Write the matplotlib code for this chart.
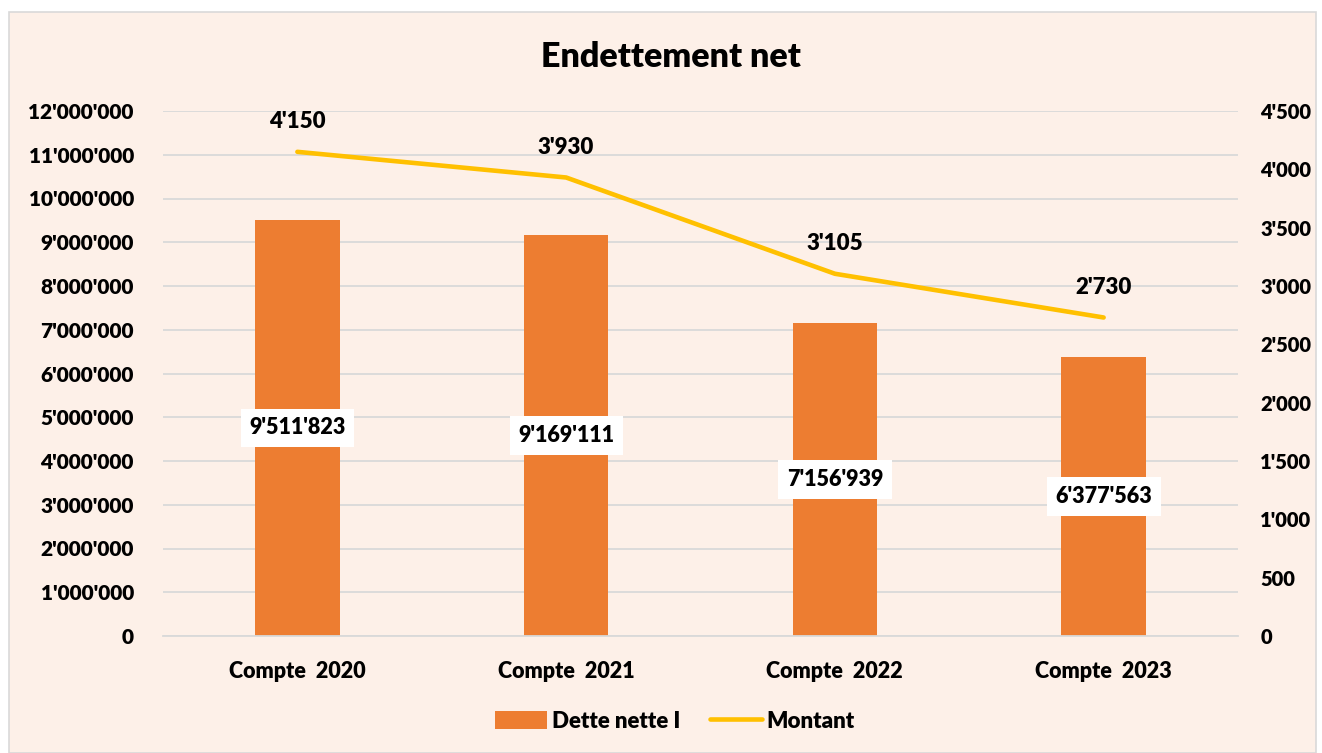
import matplotlib
matplotlib.use("Agg")
import matplotlib.pyplot as plt
from matplotlib.patches import Rectangle, Patch
from matplotlib.lines import Line2D
from matplotlib.ticker import FuncFormatter, MultipleLocator

categories = ["Compte  2020", "Compte  2021", "Compte  2022", "Compte  2023"]
dette_nette = [9511823, 9169111, 7156939, 6377563]
montant = [4150, 3930, 3105, 2730]

BAR_C = "#ED7D31"
LINE_C = "#FFC000"
BG = "#FDF0E8"
GRID = "#D9D9D9"
WT = "heavy"

plt.rcParams['font.family'] = ['Lato', 'DejaVu Sans']
plt.rcParams['font.weight'] = WT

def fmt(v, pos=None):
    return f"{int(round(v)):,}".replace(",", "'")

fig = plt.figure(figsize=(13.22, 7.53), dpi=100)
fig.patch.set_facecolor("white")
W, H = 1322, 753
fig.patches.append(Rectangle((9 / W, 0), (1316 - 9) / W, (H - 12) / H,
                             transform=fig.transFigure, facecolor=BG,
                             edgecolor=GRID, linewidth=1.2, zorder=-10))

ax = fig.add_axes([163 / W, 1 - 636 / H, (1238 - 163) / W, (636 - 111) / H])
ax.set_facecolor("none")
x = list(range(len(categories)))
bars = ax.bar(x, dette_nette, width=0.315, color=BAR_C, zorder=2)
ax.set_xlim(-0.5, len(categories) - 0.5)
ax.set_ylim(0, 12000000)
ax.yaxis.set_major_locator(MultipleLocator(1000000))
ax.yaxis.set_major_formatter(FuncFormatter(fmt))
ax.grid(axis="y", color=GRID, linewidth=1.3, zorder=0)
ax.set_axisbelow(True)
for s in ax.spines.values():
    s.set_visible(False)
ax.spines["bottom"].set_visible(True)
ax.spines["bottom"].set_color(GRID)
ax.spines["bottom"].set_linewidth(1.3)
ax.tick_params(axis="both", length=0, labelsize=15)
ax.tick_params(axis="y", pad=21)
ax.tick_params(axis="x", pad=18)
ax.set_xticks(x)
ax.set_xticklabels(categories, fontsize=15.5, fontweight=WT)
for lab in ax.get_yticklabels():
    lab.set_fontweight(WT)

for xi, v in zip(x, dette_nette):
    ax.text(xi, v / 2, fmt(v), ha="center", va="center", fontsize=15.5,
            fontweight=WT, zorder=5,
            bbox=dict(boxstyle="square,pad=0.4", facecolor="white", edgecolor="none"))

ax2 = ax.twinx()
ax2.set_ylim(0, 4500)
ax2.yaxis.set_major_locator(MultipleLocator(500))
ax2.yaxis.set_major_formatter(FuncFormatter(fmt))
for s in ax2.spines.values():
    s.set_visible(False)
ax2.tick_params(axis="y", length=0, labelsize=14.5, pad=16)
for lab in ax2.get_yticklabels():
    lab.set_fontweight(WT)
ax2.plot(x, montant, color=LINE_C, linewidth=3.3, solid_capstyle="round", zorder=3)
for xi, v in zip(x, montant):
    ax2.annotate(fmt(v), (xi, v), xytext=(0, 14), textcoords="offset points",
                 ha="center", va="bottom", fontsize=16, fontweight=WT)

fig.text(671 / W, 1 - 57 / H, "Endettement net", ha="center", va="center",
         fontsize=24.5, fontweight=WT)

handles = [Patch(facecolor=BAR_C, edgecolor="none"),
           Line2D([0], [0], color=LINE_C, linewidth=3.3, solid_capstyle="round")]
fig.legend(handles, ["Dette nette I", "Montant"], loc="center",
           bbox_to_anchor=(675 / W, 1 - 721 / H), ncol=2, frameon=False,
           prop=dict(size=16, weight=WT), handlelength=2.35,
           handleheight=0.9, handletextpad=0.22, columnspacing=1.3)

fig.savefig("out.png", dpi=100, facecolor=fig.get_facecolor())
